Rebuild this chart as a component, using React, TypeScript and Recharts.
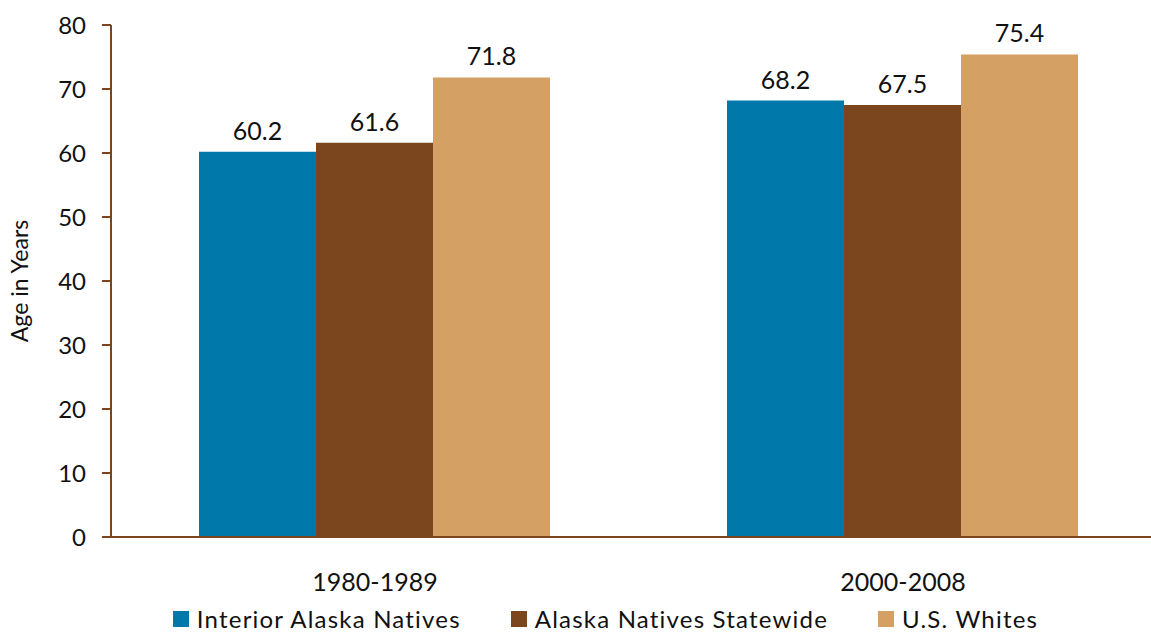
import { Bar, BarChart, LabelList, Legend, XAxis, YAxis } from "recharts";

const periods = ["1980-1989", "2000-2008"];
const interiorNatives = [60.2, 68.2];
const statewideNatives = [61.6, 67.5];
const usWhites = [71.8, 75.4];
const yTicks = [0, 10, 20, 30, 40, 50, 60, 70, 80];

const series = [
  { key: "interior", name: "Interior Alaska Natives", color: "#0079AA" },
  { key: "statewide", name: "Alaska Natives Statewide", color: "#7B461D" },
  { key: "whites", name: "U.S. Whites", color: "#D4A064" },
];

const data = periods.map((period, i) => ({
  period,
  interior: interiorNatives[i],
  statewide: statewideNatives[i],
  whites: usWhites[i],
}));

const axisColor = "#7B461D";
const font = "Lato, 'Open Sans', sans-serif";

function LegendRow() {
  return (
    <div
      style={{
        display: "flex",
        justifyContent: "center",
        gap: 50,
        fontFamily: font,
        fontSize: 24,
        letterSpacing: 1.2,
        color: "#111",
        width: 1151,
        marginLeft: 30,
      }}
    >
      {series.map((s) => (
        <div key={s.key} style={{ display: "flex", alignItems: "center" }}>
          <span
            style={{
              display: "inline-block",
              width: 16,
              height: 16,
              background: s.color,
              marginRight: 8,
            }}
          />
          <span>{s.name}</span>
        </div>
      ))}
    </div>
  );
}

export default function App() {
  return (
    <div
      style={{
        position: "fixed",
        left: 0,
        top: 0,
        width: 1151,
        height: 633,
        overflow: "hidden",
        background: "white",
      }}
    >
      <BarChart
        width={1167}
        height={633}
        data={data}
        margin={{ top: 25, right: 0, bottom: 0, left: 0 }}
        barCategoryGap={88}
        barGap={0}
      >
        <XAxis
          dataKey="period"
          axisLine={{ stroke: axisColor, strokeWidth: 2 }}
          tickLine={false}
          tickMargin={30}
          height={67}
          tick={{ fill: "#111", fontSize: 25, fontFamily: font }}
        />
        <YAxis
          domain={[0, 80]}
          ticks={yTicks}
          width={111}
          axisLine={{ stroke: axisColor, strokeWidth: 2 }}
          tickLine={{ stroke: axisColor, strokeWidth: 2 }}
          tickSize={9}
          tickMargin={16}
          tick={{ fill: "#111", fontSize: 24, fontFamily: font }}
          label={{
            value: "Age in Years",
            angle: -90,
            position: "insideLeft",
            dx: 15,
            style: {
              textAnchor: "middle",
              fill: "#111",
              fontSize: 23,
              fontFamily: font,
            },
          }}
        />
        <Legend
          verticalAlign="bottom"
          content={() => <LegendRow />}
          wrapperStyle={{ left: 0, width: 1151, bottom: 0 }}
        />
        {series.map((s) => (
          <Bar
            key={s.key}
            dataKey={s.key}
            name={s.name}
            fill={s.color}
            isAnimationActive={false}
          >
            <LabelList
              dataKey={s.key}
              position="top"
              offset={12}
              style={{ fill: "#111", fontSize: 25, fontFamily: font }}
            />
          </Bar>
        ))}
      </BarChart>
    </div>
  );
}
